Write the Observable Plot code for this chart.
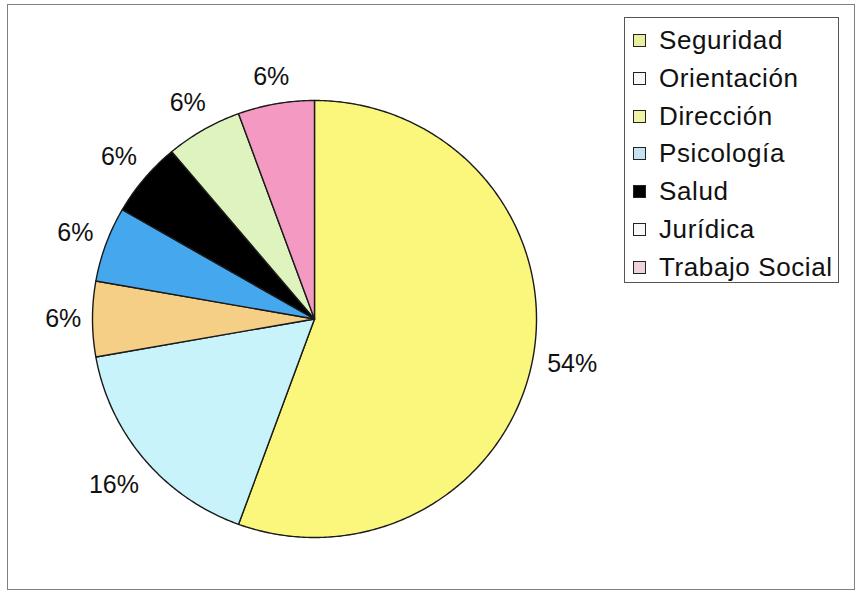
<!DOCTYPE html>
<html><head><meta charset="utf-8">
<script src="https://cdn.jsdelivr.net/npm/d3@7"></script>
<script src="https://cdn.jsdelivr.net/npm/@observablehq/plot@0.6"></script>
<style>
body{margin:0;background:#fff;font-family:Arial,"Liberation Sans",sans-serif}
#wrap{position:relative;width:858px;height:598px;overflow:hidden;background:#fff}
#frame{position:absolute;left:7px;top:4px;width:848px;height:586px;border:1px solid #808080;box-sizing:border-box;pointer-events:none}
#legend{position:absolute;left:624px;top:17px;width:215px;height:266px;border:1.5px solid #555;box-sizing:border-box;background:#fff}
.item{position:absolute;left:8px;height:30px;font-size:26px;line-height:30px;color:#111;white-space:nowrap;letter-spacing:0.6px}
.sw{position:absolute;left:0;top:9px;width:11px;height:11px;border:1.3px solid #222}
.lbl{position:absolute;left:26px;top:0}
#chart{position:absolute;left:0;top:0}
</style></head>
<body>
<div id="wrap"><div id="chart"></div><div id="frame"></div><div id="legend"></div></div>
<script>
const categories = ["Seguridad","Orientación","Dirección","Psicología","Salud","Jurídica","Trabajo Social"];
const values = [10, 3, 1, 1, 1, 1, 1];
const labels = ["54%","16%","6%","6%","6%","6%","6%"];
const sliceColors = ["#fbf77c","#c9f3fb","#f6cf86","#45a8ee","#000000","#def3bd","#f49ac2"];
const legendColors = ["#e9eea0","#f6f8fa","#eff3a6","#c4e2ef","#000000","#f8f8f8","#efd3dc"];

const W = 858, H = 598, cx = 314, cy = 318.5, RX = 222, RY = 218.5;
const FS = 25;
const total = d3.sum(values);
let acc = 0;
const slices = values.map((v, i) => {
  const a0 = acc / total * 2 * Math.PI;
  acc += v;
  const a1 = acc / total * 2 * Math.PI;
  const n = Math.max(8, Math.ceil((a1 - a0) / 0.01));
  const pts = [{x: 0, y: 0}];
  for (let k = 0; k <= n; k++) {
    const a = a0 + (a1 - a0) * k / n;
    pts.push({x: Math.sin(a), y: Math.cos(a)});
  }
  pts.push({x: 0, y: 0});
  const am = (a0 + a1) / 2;
  const s = Math.sin(am), c = Math.cos(am);
  // label placed just outside the rim, offset by half the text box plus a gap (in px)
  const halfW = 0.345 * FS * labels[i].length, halfH = FS / 2;
  const off = halfW * Math.abs(s) + halfH * Math.abs(c) + 12;
  return {cat: categories[i], color: sliceColors[i], pts, label: labels[i],
          lx: s + off * s / RX, ly: c + off * c / RY};
});

const plot = Plot.plot({
  width: W, height: H, margin: 0,
  x: {domain: [-cx / RX, (W - cx) / RX], range: [0, W], axis: null},
  y: {domain: [-(H - cy) / RY, cy / RY], range: [H, 0], axis: null},
  style: {background: "transparent"},
  marks: [
    ...slices.map(s => Plot.line(s.pts, {x: "x", y: "y", fill: s.color, stroke: "#1a1a1a", strokeWidth: 1.4, strokeLinejoin: "round"})),
    Plot.text(slices, {x: "lx", y: "ly", text: "label", fontSize: FS, fill: "#111", fontFamily: "Arial, 'Liberation Sans', sans-serif"})
  ]
});
document.getElementById("chart").appendChild(plot);

const leg = document.getElementById("legend");
categories.forEach((c, i) => {
  const it = document.createElement("div");
  it.className = "item";
  it.style.top = (7 + i * 37.8) + "px";
  it.innerHTML = `<span class="sw" style="background:${legendColors[i]}"></span><span class="lbl">${c}</span>`;
  leg.appendChild(it);
});
</script>
</body></html>
